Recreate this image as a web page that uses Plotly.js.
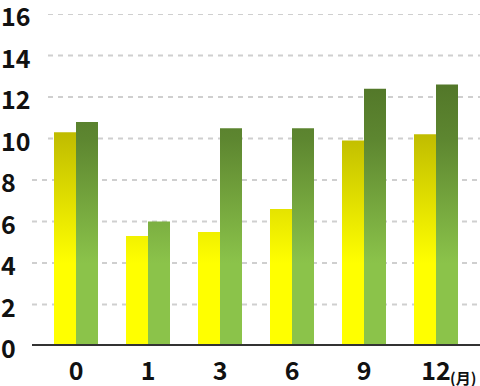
<!DOCTYPE html>
<html><head><meta charset="utf-8">
<script src="https://cdn.plot.ly/plotly-3.0.1.min.js"></script>
<style>html,body{margin:0;padding:0;background:#fff}</style>
</head><body><div id="chart" style="width:480px;height:386px"></div>
<script>
// ---- data ----
const months = ['0', '1', '3', '6', '9', '12'];
const seriesA = [10.3, 5.3, 5.5, 6.6, 9.9, 10.2];   // yellow bars
const seriesB = [10.8, 6.0, 10.5, 10.5, 12.4, 12.6]; // green bars
const yTicks = [0, 2, 4, 6, 8, 10, 12, 14, 16];
const unitLabel = '(月)';

// ---- styles ----
const FONT = '"Noto Sans CJK JP", "Noto Sans", sans-serif';
const L = 40, R = 8, T = 14, B = 40, W = 480, H = 386;
const plotW = W - L - R;

const data = [
  {type: 'bar', x: months, y: seriesA, marker: {color: '#f0ec00'}, name: 'A'},
  {type: 'bar', x: months, y: seriesB, marker: {color: '#6e9e38'}, name: 'B'}
];

const shapes = [];
const annotations = [];
yTicks.forEach(t => {
  const digits = String(t).length;
  if (t !== 0) {
    const startPx = 16 * digits + 16;
    shapes.push({type: 'line', layer: 'below', xref: 'paper', yref: 'y',
      x0: (startPx - L) / plotW, x1: 1 + R / plotW, y0: t, y1: t,
      line: {color: '#cfcfcf', width: 2, dash: '5px,5px'}});
  }
  annotations.push({xref: 'paper', yref: 'y', x: -L / plotW, y: t, xanchor: 'left', yanchor: 'middle',
    yshift: -1, borderpad: 0, showarrow: false, text: String(t),
    font: {family: FONT, size: 25, weight: 700, color: '#111'}});
});
// baseline
shapes.push({type: 'line', layer: 'above', xref: 'paper', yref: 'y',
  x0: -8 / plotW, x1: 1 + R / plotW, y0: 0, y1: 0, line: {color: '#333333', width: 4}});
// unit label after last category (category index of the last month)
annotations.push({xref: 'x', yref: 'paper', x: months.length - 1, y: 0,
  xanchor: 'left', yanchor: 'middle', xshift: 13, yshift: -31, borderpad: 0, showarrow: false, text: unitLabel,
  font: {family: FONT, size: 15, weight: 700, color: '#111'}});

const layout = {
  width: W, height: H,
  margin: {l: L, r: R, t: T, b: B, pad: 0},
  paper_bgcolor: '#fff', plot_bgcolor: '#fff',
  showlegend: false,
  barmode: 'group', bargap: 28 / 72, bargroupgap: 0,
  font: {family: FONT, color: '#111'},
  xaxis: {type: 'category', range: [-0.5, months.length - 0.5], autorange: false,
    ticks: '', showline: false, showgrid: false, zeroline: false,
    tickfont: {family: FONT, size: 25, weight: 700, color: '#111'}, ticklabelstandoff: 8},
  yaxis: {range: [0, 16], showticklabels: false, showgrid: false, zeroline: false, ticks: '', showline: false},
  shapes: shapes,
  annotations: annotations
};

const gd = document.getElementById('chart');
Plotly.newPlot(gd, data, layout, {staticPlot: true, displayModeBar: false}).then(() => {
  const ya = gd._fullLayout.yaxis;
  const svg = gd.querySelector('svg.main-svg');
  const ns = 'http://www.w3.org/2000/svg';
  let defs = svg.querySelector('defs');
  if (!defs) { defs = document.createElementNS(ns, 'defs'); svg.insertBefore(defs, svg.firstChild); }
  function makeGrad(id, stops) {
    const g = document.createElementNS(ns, 'linearGradient');
    g.setAttribute('id', id);
    g.setAttribute('gradientUnits', 'userSpaceOnUse');
    const y1 = ya.l2p(stops[0][0]), y2 = ya.l2p(stops[stops.length - 1][0]);
    g.setAttribute('x1', 0); g.setAttribute('x2', 0);
    g.setAttribute('y1', y1); g.setAttribute('y2', y2);
    stops.forEach(s => {
      const st = document.createElementNS(ns, 'stop');
      st.setAttribute('offset', (ya.l2p(s[0]) - y1) / (y2 - y1));
      st.setAttribute('stop-color', s[1]);
      g.appendChild(st);
    });
    defs.appendChild(g);
  }
  makeGrad('gradA', [[11, '#b8b400'], [4, '#ffff00']]);
  makeGrad('gradB', [[13, '#517528'], [10, '#5d8630'], [4, '#8bc34a']]);
  const traces = gd.querySelectorAll('.barlayer .trace');
  ['gradA', 'gradB'].forEach((id, i) => {
    if (traces[i]) traces[i].querySelectorAll('path').forEach(p => { p.style.fill = 'url(#' + id + ')'; });
  });
});
</script>
</body></html>
